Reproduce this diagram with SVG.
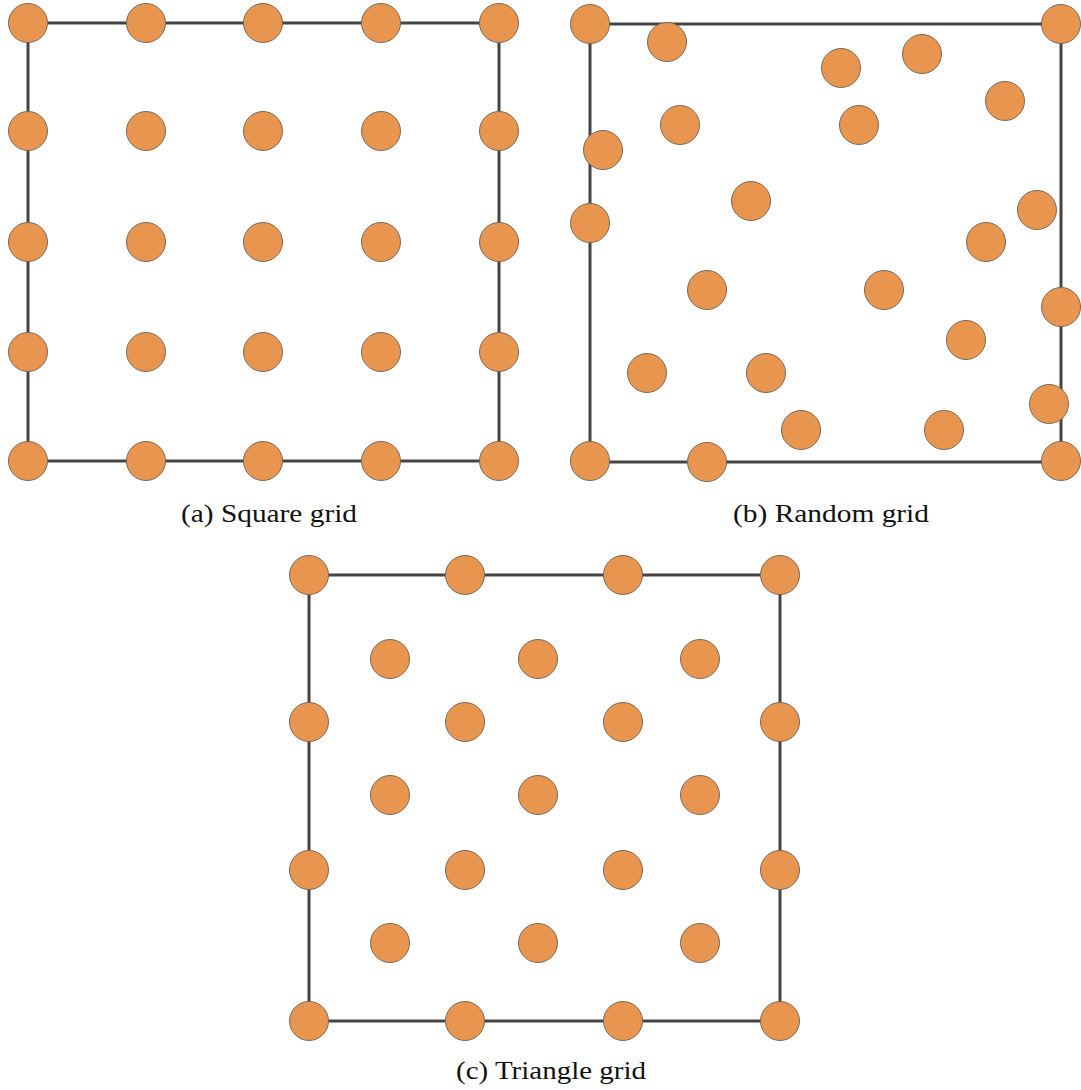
<svg xmlns="http://www.w3.org/2000/svg" width="1081" height="1090" viewBox="0 0 1081 1090">
  <style>
    .frame { fill: none; stroke: #444444; stroke-width: 3; }
    .pt { fill: #E8964F; stroke: #7a6a5a; stroke-width: 1; }
    .cap { font-family: "Liberation Serif", "DejaVu Serif", serif; font-size: 26px; fill: #111111; }
  </style>
  <rect width="1081" height="1090" fill="#ffffff"/>

  <!-- frames -->
  <g id="connectors">
    <rect class="frame" x="28" y="23" width="471" height="438"/>
    <rect class="frame" x="590" y="24" width="471" height="438"/>
    <rect class="frame" x="309" y="575" width="471" height="446"/>
  </g>

  <!-- (a) square grid -->
  <g id="square-grid">
    <g id="a-row1"><circle class="pt" cx="28" cy="23" r="19.5"/><circle class="pt" cx="146" cy="23" r="19.5"/><circle class="pt" cx="263" cy="23" r="19.5"/><circle class="pt" cx="381" cy="23" r="19.5"/><circle class="pt" cx="499" cy="23" r="19.5"/></g>
    <g id="a-row2"><circle class="pt" cx="28" cy="131" r="19.5"/><circle class="pt" cx="146" cy="131" r="19.5"/><circle class="pt" cx="263" cy="131" r="19.5"/><circle class="pt" cx="381" cy="131" r="19.5"/><circle class="pt" cx="499" cy="131" r="19.5"/></g>
    <g id="a-row3"><circle class="pt" cx="28" cy="242" r="19.5"/><circle class="pt" cx="146" cy="242" r="19.5"/><circle class="pt" cx="263" cy="242" r="19.5"/><circle class="pt" cx="381" cy="242" r="19.5"/><circle class="pt" cx="499" cy="242" r="19.5"/></g>
    <g id="a-row4"><circle class="pt" cx="28" cy="352" r="19.5"/><circle class="pt" cx="146" cy="352" r="19.5"/><circle class="pt" cx="263" cy="352" r="19.5"/><circle class="pt" cx="381" cy="352" r="19.5"/><circle class="pt" cx="499" cy="352" r="19.5"/></g>
    <g id="a-row5"><circle class="pt" cx="28" cy="461" r="19.5"/><circle class="pt" cx="146" cy="461" r="19.5"/><circle class="pt" cx="263" cy="461" r="19.5"/><circle class="pt" cx="381" cy="461" r="19.5"/><circle class="pt" cx="499" cy="461" r="19.5"/></g>
    <text class="cap" x="181" y="522" textLength="176" lengthAdjust="spacingAndGlyphs">(a) Square grid</text>
  </g>

  <!-- (b) random grid -->
  <g id="random-grid">
    <circle class="pt" cx="590" cy="24" r="19.5"/>
    <circle class="pt" cx="667" cy="42" r="19.5"/>
    <circle class="pt" cx="841" cy="68" r="19.5"/>
    <circle class="pt" cx="922" cy="54" r="19.5"/>
    <circle class="pt" cx="1061" cy="24" r="19.5"/>
    <circle class="pt" cx="1005" cy="101" r="19.5"/>
    <circle class="pt" cx="680" cy="125" r="19.5"/>
    <circle class="pt" cx="859" cy="125" r="19.5"/>
    <circle class="pt" cx="603" cy="150" r="19.5"/>
    <circle class="pt" cx="751" cy="201" r="19.5"/>
    <circle class="pt" cx="1037" cy="210" r="19.5"/>
    <circle class="pt" cx="590" cy="223" r="19.5"/>
    <circle class="pt" cx="986" cy="242" r="19.5"/>
    <circle class="pt" cx="707" cy="290" r="19.5"/>
    <circle class="pt" cx="884" cy="290" r="19.5"/>
    <circle class="pt" cx="1061" cy="307" r="19.5"/>
    <circle class="pt" cx="966" cy="340" r="19.5"/>
    <circle class="pt" cx="647" cy="373" r="19.5"/>
    <circle class="pt" cx="766" cy="373" r="19.5"/>
    <circle class="pt" cx="1049" cy="404" r="19.5"/>
    <circle class="pt" cx="801" cy="430" r="19.5"/>
    <circle class="pt" cx="944" cy="430" r="19.5"/>
    <circle class="pt" cx="590" cy="461" r="19.5"/>
    <circle class="pt" cx="707" cy="462" r="19.5"/>
    <circle class="pt" cx="1061" cy="461" r="19.5"/>
    <text class="cap" x="733" y="522" textLength="196" lengthAdjust="spacingAndGlyphs">(b) Random grid</text>
  </g>

  <!-- (c) triangle grid -->
  <g id="triangle-grid">
    <g id="c-row1"><circle class="pt" cx="309" cy="575" r="19.5"/><circle class="pt" cx="465" cy="575" r="19.5"/><circle class="pt" cx="623" cy="575" r="19.5"/><circle class="pt" cx="780" cy="575" r="19.5"/></g>
    <g id="c-row2"><circle class="pt" cx="390" cy="659" r="19.5"/><circle class="pt" cx="538" cy="659" r="19.5"/><circle class="pt" cx="700" cy="659" r="19.5"/></g>
    <g id="c-row3"><circle class="pt" cx="309" cy="722" r="19.5"/><circle class="pt" cx="465" cy="722" r="19.5"/><circle class="pt" cx="623" cy="722" r="19.5"/><circle class="pt" cx="780" cy="722" r="19.5"/></g>
    <g id="c-row4"><circle class="pt" cx="390" cy="795" r="19.5"/><circle class="pt" cx="538" cy="795" r="19.5"/><circle class="pt" cx="700" cy="795" r="19.5"/></g>
    <g id="c-row5"><circle class="pt" cx="309" cy="870" r="19.5"/><circle class="pt" cx="465" cy="870" r="19.5"/><circle class="pt" cx="623" cy="870" r="19.5"/><circle class="pt" cx="780" cy="870" r="19.5"/></g>
    <g id="c-row6"><circle class="pt" cx="390" cy="943" r="19.5"/><circle class="pt" cx="538" cy="943" r="19.5"/><circle class="pt" cx="700" cy="943" r="19.5"/></g>
    <g id="c-row7"><circle class="pt" cx="309" cy="1021" r="19.5"/><circle class="pt" cx="465" cy="1021" r="19.5"/><circle class="pt" cx="623" cy="1021" r="19.5"/><circle class="pt" cx="780" cy="1021" r="19.5"/></g>
    <text class="cap" x="456" y="1079" textLength="190" lengthAdjust="spacingAndGlyphs">(c) Triangle grid</text>
  </g>
</svg>
